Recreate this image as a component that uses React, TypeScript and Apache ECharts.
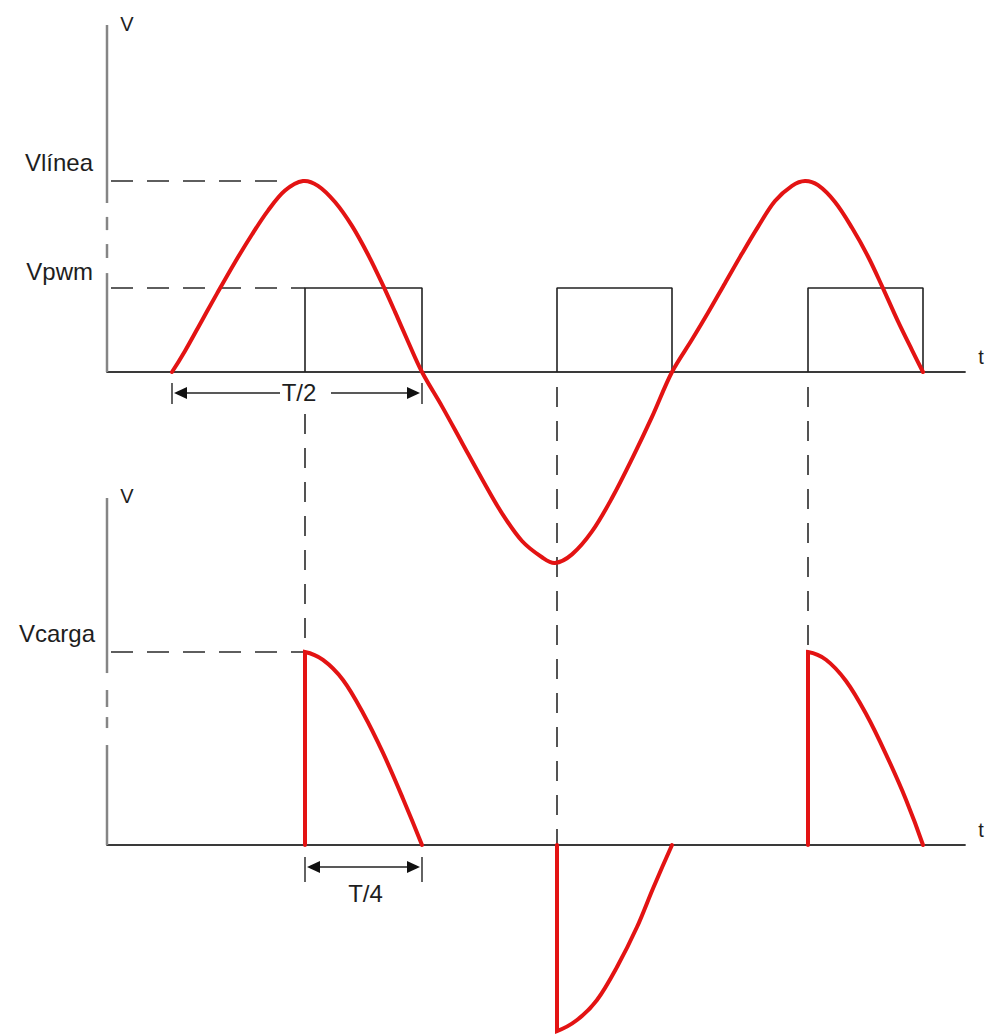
import React, { useEffect, useRef } from "react";
import * as echarts from "echarts";

// ---- axis ranges (time in ms, T = 20 ms; voltages in per-unit of Vlínea) ----
const T_MIN = -2.6;
const T_MAX = 31.72;
const TOP_V_MAX = 1.817;
const BOT_V_MAX = 1.798;

// ---- reference levels ----
const V_LINEA = 1.0;
const V_PWM = 0.44;
const V_CARGA = 1.0;
const GUIDE_START = -3.88;
const LINEA_GUIDE_END = 4.32;

// ---- line voltage ----
const lineT = [0, 0.52, 1.2, 1.84, 2.52, 3.2, 3.84, 4.52, 5.24, 5.84, 6.52, 7.2, 7.84, 8.4, 8.92, 9.44, 10,
  10.8, 11.6, 12.4, 13.2, 14.0, 14.8, 15.32, 16.0, 16.8, 17.6, 18.4, 19.2, 20,
  20.8, 21.44, 22.12, 22.8, 23.44, 24.12, 24.8, 25.32, 25.84, 26.52, 27.2, 27.84, 28.4, 29.04, 29.6, 30.04];
const lineV = [0, 0.11, 0.27, 0.42, 0.575, 0.72, 0.845, 0.95, 1.0, 0.975, 0.89, 0.765, 0.615, 0.465, 0.315, 0.16, 0,
  -0.18, -0.37, -0.56, -0.74, -0.885, -0.97, -1.0, -0.955, -0.835, -0.66, -0.455, -0.235, 0,
  0.17, 0.31, 0.465, 0.62, 0.76, 0.895, 0.975, 1.0, 0.978, 0.89, 0.755, 0.605, 0.45, 0.265, 0.115, 0];

// ---- PWM pulses ----
const pulseStart = [5.32, 15.4, 25.44];
const pulseEnd = [10, 20, 30.04];

// ---- load voltage segments ----
const load1T = [5.32, 6.04, 6.84, 7.64, 8.44, 9.24, 10];
const load1V = [1.0, 0.959, 0.855, 0.684, 0.477, 0.24, 0];
const load2T = [15.4, 16.2, 17.0, 17.8, 18.6, 19.24, 20];
const load2V = [-0.964, -0.907, -0.803, -0.632, -0.425, -0.225, 0];
const load3T = [25.44, 26.16, 26.96, 27.76, 28.56, 29.36, 30.04];
const load3V = [1.0, 0.96, 0.85, 0.68, 0.47, 0.235, 0];

// ---- broken vertical axes (value ranges of drawn segments) ----
const topAxisSegs = [[0, 0.518], [0.597, 0.67], [0.743, 0.812], [0.885, TOP_V_MAX]];
const botAxisSegs = [[0, 0.518], [0.606, 0.663], [0.715, 0.803], [0.891, BOT_V_MAX]];

const RED = "#e31313";
const DARK = "#222222";
const AXIS_GRAY = "#858585";
const FONT = "'Liberation Sans', Arial, sans-serif";

const pts = (ts: number[], vs: number[]) => ts.map((t, i) => [t, vs[i]]);

// smooth path through pixel points (chord-length cubic Hermite, natural-like ends)
function smoothPath(P: number[][], prefix = "") {
  const n = P.length;
  const d = (a: number[], b: number[]) => Math.hypot(b[0] - a[0], b[1] - a[1]) || 1;
  const norm = (v: number[]) => {
    const L = Math.hypot(v[0], v[1]) || 1;
    return [v[0] / L, v[1] / L];
  };
  const tan: number[][] = P.map((p, i) => {
    const a = P[Math.max(0, i - 1)];
    const b = P[Math.min(n - 1, i + 1)];
    return norm([b[0] - a[0], b[1] - a[1]]);
  });
  if (n > 2) {
    const c0 = norm([P[1][0] - P[0][0], P[1][1] - P[0][1]]);
    tan[0] = norm([2 * c0[0] - tan[1][0], 2 * c0[1] - tan[1][1]]);
    const c1 = norm([P[n - 1][0] - P[n - 2][0], P[n - 1][1] - P[n - 2][1]]);
    tan[n - 1] = norm([2 * c1[0] - tan[n - 2][0], 2 * c1[1] - tan[n - 2][1]]);
  }
  let s = prefix ? prefix + ` L${P[0][0]},${P[0][1]}` : `M${P[0][0]},${P[0][1]}`;
  for (let i = 0; i < n - 1; i++) {
    const L = d(P[i], P[i + 1]) / 3;
    const c1 = [P[i][0] + tan[i][0] * L, P[i][1] + tan[i][1] * L];
    const c2 = [P[i + 1][0] - tan[i + 1][0] * L, P[i + 1][1] - tan[i + 1][1] * L];
    s += ` C${c1[0]},${c1[1]} ${c2[0]},${c2[1]} ${P[i + 1][0]},${P[i + 1][1]}`;
  }
  return s;
}

function curveSeries(idx: number, ts: number[], vs: number[], withEdge: boolean) {
  return {
    type: "custom",
    xAxisIndex: idx,
    yAxisIndex: idx,
    silent: true,
    clip: false,
    z: 5,
    data: pts(ts, vs),
    renderItem: (params: any, api: any) => {
      if (params.dataIndex !== 0) return null;
      const P = ts.map((t, i) => api.coord([t, vs[i]]));
      let prefix = "";
      if (withEdge) {
        const b = api.coord([ts[0], 0]);
        prefix = `M${b[0]},${b[1]}`;
      }
      return {
        type: "path",
        shape: { pathData: smoothPath(P, prefix) },
        style: { fill: "none", stroke: RED, lineWidth: 4, lineCap: "round", lineJoin: "miter" },
      };
    },
  };
}

function buildOption() {
  const series: any[] = [];
  const line = (idx: number, data: any[], style: any, extra: any = {}) =>
    series.push({
      type: "line",
      xAxisIndex: idx,
      yAxisIndex: idx,
      data,
      symbol: "none",
      clip: false,
      silent: true,
      lineStyle: style,
      ...extra,
    });

  topAxisSegs.forEach((s) => line(0, [[T_MIN, s[0]], [T_MIN, s[1]]], { color: AXIS_GRAY, width: 2.5 }));
  botAxisSegs.forEach((s) => line(1, [[T_MIN, s[0]], [T_MIN, s[1]]], { color: AXIS_GRAY, width: 2.5 }));

  const dash = { color: "#2a2a2a", width: 1.6, type: [22, 14] };
  line(0, [[GUIDE_START, V_LINEA], [LINEA_GUIDE_END, V_LINEA]], dash);
  line(0, [[GUIDE_START, V_PWM], [pulseStart[0], V_PWM]], dash);
  line(1, [[GUIDE_START, V_CARGA], [pulseStart[0], V_CARGA]], dash);

  pulseStart.forEach((s, i) =>
    line(0, [[s, 0], [s, V_PWM], [pulseEnd[i], V_PWM], [pulseEnd[i], 0]], { color: DARK, width: 1.6 })
  );

  series.push(curveSeries(0, lineT, lineV, false));
  series.push(curveSeries(1, load1T, load1V, true));
  series.push(curveSeries(1, load2T, load2V, true));
  series.push(curveSeries(1, load3T, load3V, true));

  const xAx = (i: number) => ({
    type: "value",
    gridIndex: i,
    min: T_MIN,
    max: T_MAX,
    axisLine: { show: true, onZero: false, lineStyle: { color: "#3a3a3a", width: 1.8 } },
    axisTick: { show: false },
    axisLabel: { show: false },
    splitLine: { show: false },
  });
  const yAx = (i: number, max: number) => ({
    type: "value",
    gridIndex: i,
    min: 0,
    max,
    axisLine: { show: false },
    axisTick: { show: false },
    axisLabel: { show: false },
    splitLine: { show: false },
  });

  return {
    animation: false,
    backgroundColor: "#ffffff",
    grid: [
      { left: 107, top: 25, width: 858, height: 347 },
      { left: 107, top: 498, width: 858, height: 347 },
    ],
    xAxis: [xAx(0), xAx(1)],
    yAxis: [yAx(0, TOP_V_MAX), yAx(1, BOT_V_MAX)],
    series,
  };
}

export default function App() {
  const ref = useRef<HTMLDivElement>(null);
  useEffect(() => {
    if (!ref.current) return;
    const chart = echarts.init(ref.current, null, { renderer: "svg" });
    chart.setOption(buildOption());

    const p0 = (t: number, v: number) => chart.convertToPixel({ xAxisIndex: 0, yAxisIndex: 0 }, [t, v]) as number[];
    const p1 = (t: number, v: number) => chart.convertToPixel({ xAxisIndex: 1, yAxisIndex: 1 }, [t, v]) as number[];

    const g: any[] = [];
    const seg = (x1: number, y1: number, x2: number, y2: number, style: any, z = 1) =>
      g.push({ type: "line", silent: true, z, shape: { x1, y1, x2, y2 }, style: { stroke: DARK, lineWidth: 1.6, ...style } });
    const text = (x: number, y: number, s: string, size: number, align = "center") =>
      g.push({
        type: "text",
        silent: true,
        z: 3,
        x,
        y,
        style: { text: s, fill: "#1e1e1e", fontSize: size, fontFamily: FONT, align, verticalAlign: "middle" },
      });
    const head = (x: number, y: number, dir: number) =>
      g.push({
        type: "polygon",
        silent: true,
        z: 3,
        shape: { points: [[x, y], [x + dir * 13, y - 6], [x + dir * 13, y + 6]] },
        style: { fill: "#111" },
      });

    // vertical dashed projections
    const loadTops = [load1V[0], load2V[0], load3V[0]];
    const dashStartGap = [42, 15, 15];
    pulseStart.forEach((t, i) => {
      const a = p0(t, 0);
      const b = p1(t, Math.max(0, loadTops[i]));
      seg(a[0], a[1] + dashStartGap[i], b[0], b[1], { lineDash: [20, 14], stroke: "#2a2a2a" }, 1);
    });

    // level labels
    const ax0 = p0(T_MIN, 0);
    const ax1 = p1(T_MIN, 0);
    text(ax0[0] - 14, p0(T_MIN, V_LINEA)[1] - 19, "Vlínea", 24, "right");
    text(ax0[0] - 14, p0(T_MIN, V_PWM)[1] - 16, "Vpwm", 24, "right");
    text(ax1[0] - 12, p1(T_MIN, V_CARGA)[1] - 19, "Vcarga", 24, "right");

    // axis names
    const top0 = p0(T_MIN, TOP_V_MAX);
    const top1 = p1(T_MIN, BOT_V_MAX);
    text(top0[0] + 20, top0[1] - 1, "V", 20);
    text(top1[0] + 20, top1[1] - 2, "V", 20);
    const r0 = p0(T_MAX, 0);
    const r1 = p1(T_MAX, 0);
    text(r0[0] + 16, r0[1] - 15, "t", 20);
    text(r1[0] + 16, r1[1] - 15, "t", 20);

    // T/2 dimension
    {
      const xa = p0(lineT[0], 0)[0];
      const xb = p0(pulseEnd[0], 0)[0];
      const y = p0(0, 0)[1] + 21;
      const tc = (xa + xb) / 2 + 2;
      seg(xa, y - 10, xa, y + 11, { lineWidth: 1.4 });
      seg(xb, y - 10, xb, y + 11, { lineWidth: 1.4 });
      seg(xa + 4, y, tc - 19, y, {});
      seg(tc + 32, y, xb - 4, y, {});
      head(xa + 2, y, 1);
      head(xb - 2, y, -1);
      text(tc, y - 1, "T/2", 24);
    }
    // T/4 dimension
    {
      const xa = p1(pulseStart[0], 0)[0];
      const xb = p1(pulseEnd[0], 0)[0];
      const y = p1(0, 0)[1] + 22;
      seg(xa, y - 10, xa, y + 15, { lineWidth: 1.4 });
      seg(xb, y - 10, xb, y + 15, { lineWidth: 1.4 });
      seg(xa + 4, y, xb - 4, y, {});
      head(xa + 2, y, 1);
      head(xb - 2, y, -1);
      text((xa + xb) / 2 + 2, y + 26, "T/4", 24);
    }

    chart.setOption({ graphic: g });
    return () => chart.dispose();
  }, []);

  return (
    <div
      ref={ref}
      style={{ position: "absolute", left: 0, top: 0, width: 988, height: 1034, background: "#fff" }}
    />
  );
}
